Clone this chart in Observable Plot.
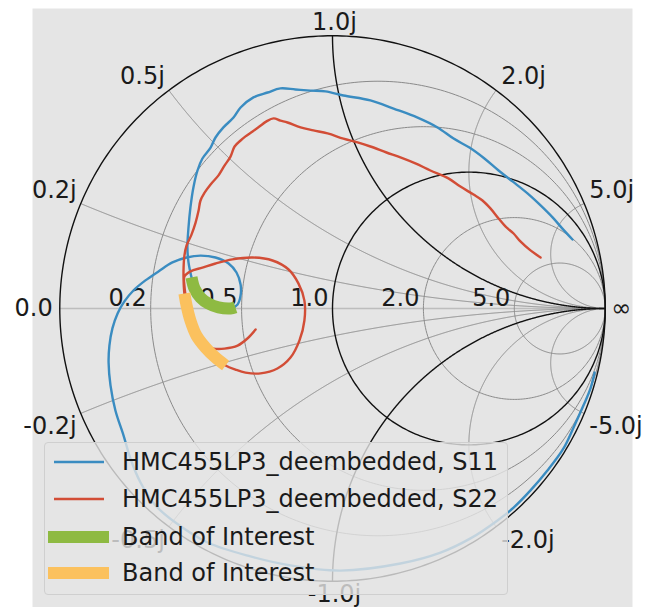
<!DOCTYPE html>
<html>
<head>
<meta charset="utf-8">
<script src="https://cdn.jsdelivr.net/npm/d3@7"></script>
<script src="https://cdn.jsdelivr.net/npm/@observablehq/plot@0.6"></script>
<style>
  body { margin: 0; background: #ffffff; font-family: "DejaVu Sans", sans-serif; }
  #wrap { position: relative; width: 647px; height: 607px; overflow: hidden; }
  #legend { position: absolute; left: 44px; top: 442px; width: 464px; height: 153px;
    background: rgba(229,229,229,0.8); border: 1px solid #cfcfcf; border-radius: 4px; box-sizing: border-box; }
  .lg-row { position: absolute; left: 0; width: 100%; height: 28px; }
  .lg-row svg { position: absolute; left: 0; top: 0; }
  .lg-row span { position: absolute; left: 77px; top: 0; font-size: 24px; line-height: 28px; color: #1a1a1a; white-space: nowrap; }
</style>
</head>
<body>
<div id="wrap"></div>
<script>
const s11Re = [0.880,0.843,0.807,0.763,0.715,0.660,0.609,0.557,0.502,0.444,0.385,0.312,0.224,0.139,0.040,-0.026,-0.081,-0.136,-0.191,-0.238,-0.290,-0.337,-0.363,-0.400,-0.429,-0.447,-0.477,-0.495,-0.510,-0.521,-0.528,-0.532,-0.528,-0.521,-0.517,-0.506,-0.484,-0.455,-0.418,-0.374,-0.348,-0.337,-0.337,-0.352,-0.381,-0.429,-0.484,-0.535,-0.587,-0.638,-0.686,-0.730,-0.763,-0.788,-0.807,-0.818,-0.821,-0.814,-0.796,-0.766,-0.741,-0.704,-0.649,-0.576,-0.458,-0.301,-0.154,0.029,0.249,0.396,0.506,0.605,0.664,0.726,0.788,0.847,0.884,0.920,0.946,0.961];
const s11Im = [0.253,0.293,0.334,0.378,0.422,0.466,0.506,0.550,0.590,0.623,0.664,0.700,0.733,0.763,0.781,0.796,0.799,0.803,0.807,0.792,0.774,0.737,0.700,0.664,0.627,0.590,0.550,0.506,0.444,0.370,0.297,0.224,0.169,0.132,0.114,0.073,0.040,0.018,0.004,0.000,0.015,0.048,0.088,0.132,0.165,0.187,0.194,0.187,0.169,0.136,0.103,0.066,0.026,-0.018,-0.073,-0.136,-0.198,-0.282,-0.374,-0.466,-0.550,-0.638,-0.722,-0.785,-0.858,-0.909,-0.942,-0.961,-0.935,-0.895,-0.843,-0.777,-0.730,-0.667,-0.594,-0.513,-0.436,-0.356,-0.293,-0.235];

const s22Re = [0.763,0.726,0.689,0.664,0.634,0.609,0.579,0.550,0.517,0.469,0.425,0.359,0.304,0.249,0.198,0.139,0.092,0.040,-0.018,-0.070,-0.117,-0.165,-0.191,-0.216,-0.242,-0.268,-0.293,-0.319,-0.337,-0.359,-0.374,-0.396,-0.418,-0.447,-0.469,-0.484,-0.491,-0.502,-0.517,-0.535,-0.543,-0.546,-0.546,-0.543,-0.535,-0.521,-0.499,-0.466,-0.429,-0.392,-0.356,-0.319,-0.264,-0.202,-0.154,-0.121,-0.103,-0.103,-0.125,-0.161,-0.220,-0.293,-0.367,-0.429,-0.477,-0.521,-0.543,-0.543,-0.539,-0.532,-0.517,-0.495,-0.466,-0.436,-0.396,-0.348,-0.312,-0.282];
const s22Im = [0.187,0.213,0.246,0.275,0.301,0.330,0.367,0.396,0.418,0.447,0.477,0.506,0.532,0.554,0.572,0.594,0.609,0.623,0.642,0.653,0.664,0.682,0.689,0.697,0.686,0.667,0.649,0.631,0.616,0.594,0.557,0.524,0.488,0.455,0.425,0.396,0.359,0.315,0.271,0.231,0.194,0.150,0.103,0.055,0.011,-0.044,-0.099,-0.143,-0.180,-0.209,-0.224,-0.235,-0.238,-0.220,-0.180,-0.117,-0.044,0.029,0.092,0.143,0.176,0.187,0.180,0.165,0.150,0.136,0.117,0.084,0.048,-0.007,-0.051,-0.099,-0.136,-0.147,-0.147,-0.136,-0.110,-0.077];

// Band of interest (S11 in green, S22 in orange)
const band11Re = [-0.517,-0.506,-0.484,-0.455,-0.418,-0.374,-0.356];
const band11Im = [0.114,0.073,0.040,0.018,0.004,0.000,0.004];
const band22Re = [-0.543,-0.535,-0.521,-0.499,-0.466,-0.429,-0.392];
const band22Im = [0.055,0.011,-0.044,-0.099,-0.143,-0.180,-0.209];

// Smith chart ticks
const rTicks  = [0.2, 0.5, 1.0, 2.0, 5.0];
const rLabels = ["0.2", "0.5", "1.0", "2.0", "5.0"];
const xTicks  = [0.2, 0.5, 1.0, 2.0, 5.0, -0.2, -0.5, -1.0, -2.0, -5.0];
const xLabels = ["0.2j","0.5j","1.0j","2.0j","5.0j","-0.2j","-0.5j","-1.0j","-2.0j","-5.0j"];
const edgeLabels = ["0.0", "\u221e"];

const seriesNames = ["HMC455LP3_deembedded, S11", "HMC455LP3_deembedded, S22", "Band of Interest", "Band of Interest"];
const seriesColors = ["#3A8CC1", "#D24D36", "#8EBA42", "#FBC15E"];

// ---- geometry helpers ----
const pts = (re, im) => re.map((v, i) => ({x: v, y: im[i]}));
function resistanceCircle(r) {
  const c = r / (1 + r), rad = 1 / (1 + r);
  return d3.range(0, 361, 1).map(a => ({x: c + rad * Math.cos(a * Math.PI / 180), y: rad * Math.sin(a * Math.PI / 180)}));
}
function reactanceArc(xv) {
  return d3.range(0, 0.999, 0.001).map(s => {
    const r = s / (1 - s), D = (r + 1) ** 2 + xv * xv;
    return {x: (r * r + xv * xv - 1) / D, y: 2 * xv / D};
  }).concat([{x: 1, y: 0}]);
}
function reactancePoint(xv) { const D = 1 + xv * xv; return {x: (xv * xv - 1) / D, y: 2 * xv / D}; }

const W = 647, H = 607, mL = 32, mR = 15, mT = 8, mB = 0;
const k = (W - mL - mR) / 2.2;
const yMin = 1.1 - (H - mT - mB) / k;

const grayW = 1, blackW = 1.4, grayC = "#8a8a8a", blackC = "#111111";
const marks = [Plot.frame({fill: "#E5E5E5", stroke: "none"})];
marks.push(Plot.ruleY([0], {x1: -1, x2: 1, stroke: "#bdbdbd", strokeWidth: 1.5}));
for (const r of rTicks) if (r !== 1) marks.push(Plot.line(resistanceCircle(r), {x: "x", y: "y", stroke: grayC, strokeWidth: grayW}));
for (const xv of xTicks) if (Math.abs(xv) !== 1) marks.push(Plot.line(reactanceArc(xv), {x: "x", y: "y", stroke: grayC, strokeWidth: grayW}));
marks.push(Plot.line(resistanceCircle(1), {x: "x", y: "y", stroke: blackC, strokeWidth: blackW}));
marks.push(Plot.line(reactanceArc(1), {x: "x", y: "y", stroke: blackC, strokeWidth: blackW}));
marks.push(Plot.line(reactanceArc(-1), {x: "x", y: "y", stroke: blackC, strokeWidth: blackW}));
marks.push(Plot.line(resistanceCircle(0), {x: "x", y: "y", stroke: blackC, strokeWidth: blackW}));

const txt = {fontSize: 24, fontFamily: "DejaVu Sans", fill: "#1a1a1a"};
// resistance labels
marks.push(Plot.text(rTicks, {x: r => (r - 1) / (r + 1), y: () => 0, text: (d, i) => rLabels[i], textAnchor: "end", lineAnchor: "bottom", dx: -4, dy: -3, ...txt}));
// reactance labels
const xl = xTicks.map((v, i) => ({...reactancePoint(v), v, label: xLabels[i]}));
const groups = [
  {f: d => d.v > 0 && Math.abs(d.v) < 1, ta: "end", la: "bottom", dx: -4, dy: -6},
  {f: d => d.v === 1, ta: "middle", la: "bottom", dx: 2, dy: -6},
  {f: d => d.v > 1, ta: "start", la: "bottom", dx: 5, dy: -6},
  {f: d => d.v < 0 && Math.abs(d.v) < 1, ta: "end", la: "top", dx: -4, dy: 4},
  {f: d => d.v === -1, ta: "middle", la: "top", dx: 2, dy: 4},
  {f: d => d.v < -1, ta: "start", la: "top", dx: 5, dy: 4}
];
for (const g of groups) marks.push(Plot.text(xl.filter(g.f), {x: "x", y: "y", text: "label", textAnchor: g.ta, lineAnchor: g.la, dx: g.dx, dy: g.dy, ...txt}));
marks.push(Plot.text([edgeLabels[0]], {x: () => -1, y: () => 0, text: d => d, textAnchor: "end", lineAnchor: "middle", dx: -7, ...txt}));
marks.push(Plot.text([edgeLabels[1]], {x: () => 1, y: () => 0, text: d => d, textAnchor: "start", lineAnchor: "middle", dx: 6, ...txt}));

// data
marks.push(Plot.line(pts(s11Re, s11Im), {x: "x", y: "y", stroke: seriesColors[0], strokeWidth: 2.4, curve: "catmull-rom"}));
marks.push(Plot.line(pts(s22Re, s22Im), {x: "x", y: "y", stroke: seriesColors[1], strokeWidth: 2.4, curve: "catmull-rom"}));
marks.push(Plot.line(pts(band11Re, band11Im), {x: "x", y: "y", stroke: seriesColors[2], strokeWidth: 12, curve: "catmull-rom", strokeLinecap: "butt"}));
marks.push(Plot.line(pts(band22Re, band22Im), {x: "x", y: "y", stroke: seriesColors[3], strokeWidth: 12, curve: "catmull-rom", strokeLinecap: "butt"}));

const chart = Plot.plot({
  width: W, height: H,
  marginLeft: mL, marginRight: mR, marginTop: mT, marginBottom: mB,
  x: {domain: [-1.1, 1.1], axis: null},
  y: {domain: [yMin, 1.1], axis: null},
  style: {background: "#ffffff", fontFamily: "DejaVu Sans", overflow: "visible"},
  marks
});
const wrap = document.getElementById("wrap");
wrap.appendChild(chart);

// legend overlay (inside the axes, semi-transparent like the original)
const legend = document.createElement("div");
legend.id = "legend";
const rowCenters = [19, 56, 94, 130];
seriesNames.forEach((name, i) => {
  const row = document.createElement("div");
  row.className = "lg-row";
  row.style.top = (rowCenters[i] - 14) + "px";
  const thick = i >= 2;
  const x1 = thick ? 3 : 9, x2 = thick ? 64 : 59;
  row.innerHTML = `<svg width="70" height="28"><line x1="${x1}" x2="${x2}" y1="14" y2="14" stroke="${seriesColors[i]}" stroke-width="${thick ? 12 : 2.5}"/></svg><span>${name}</span>`;
  legend.appendChild(row);
});
wrap.appendChild(legend);
</script>
</body>
</html>
